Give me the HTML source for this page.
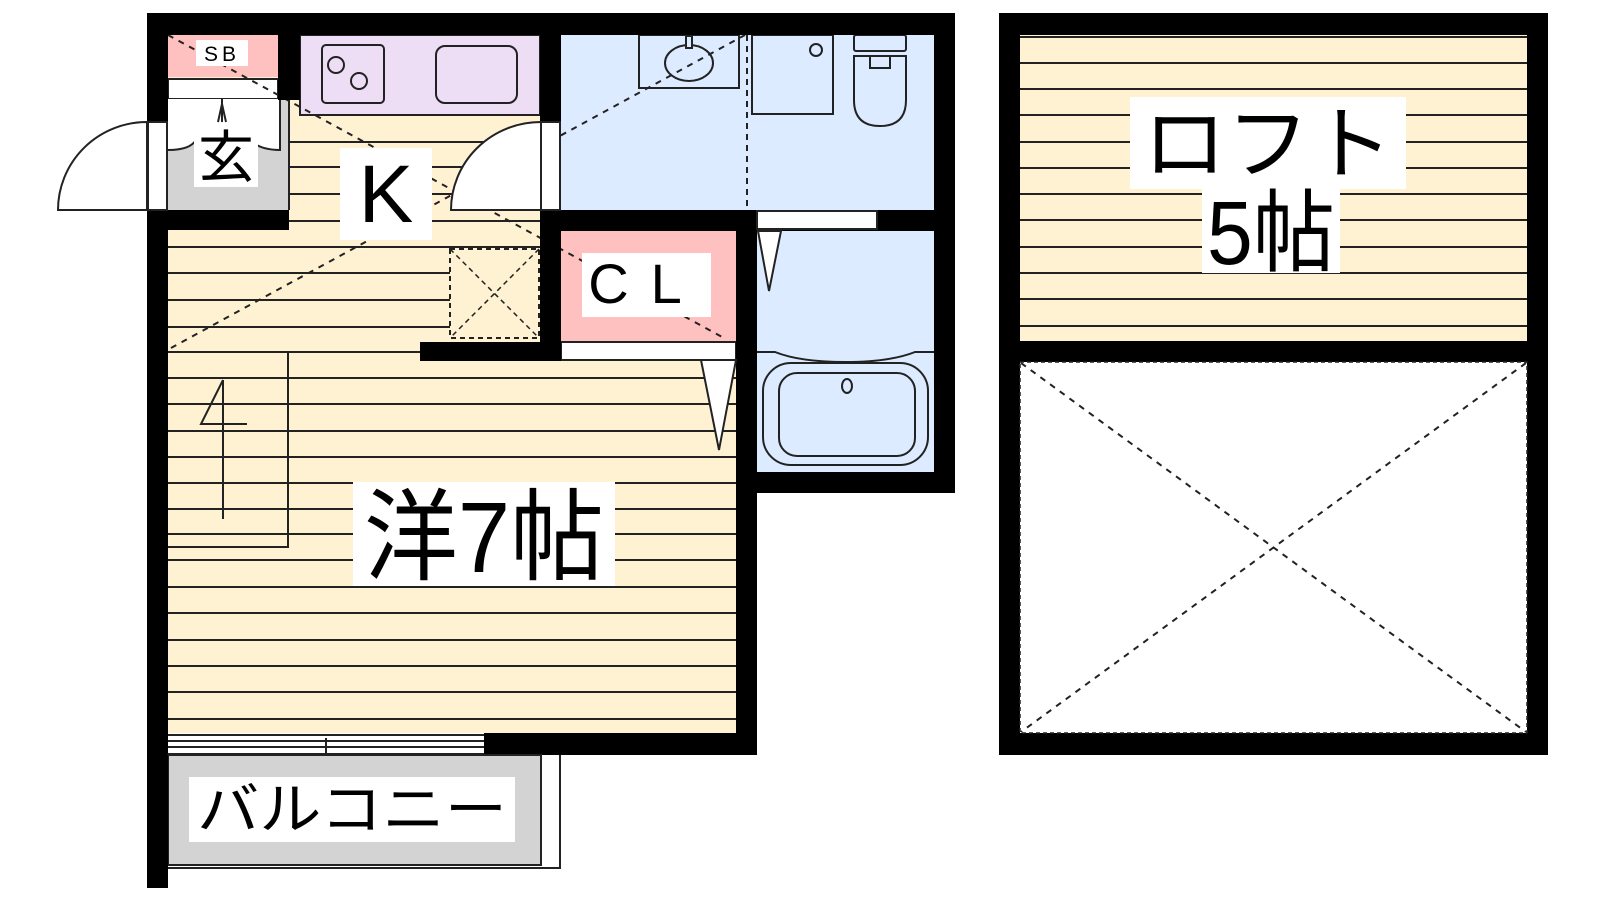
<!DOCTYPE html>
<html><head><meta charset="utf-8"><style>
html,body{margin:0;padding:0;background:#fff;width:1600px;height:900px;overflow:hidden}
text{font-family:"Liberation Sans","Noto Sans CJK JP",sans-serif;fill:#000}
</style></head><body>
<svg width="1600" height="900" viewBox="0 0 1600 900" xmlns="http://www.w3.org/2000/svg">
<!-- floors -->
<rect x="168" y="35" width="372" height="720" fill="#fff2d2"/>
<rect x="168" y="342" width="568" height="391" fill="#fff2d2"/>
<!-- kitchen floor lines -->
<g stroke="#222" stroke-width="2">
<line x1="290" y1="142" x2="540" y2="142"/><line x1="290" y1="167" x2="540" y2="167"/><line x1="290" y1="194" x2="540" y2="194"/>
<line x1="289" y1="221" x2="540" y2="221"/>
<line x1="168" y1="247" x2="540" y2="247"/><line x1="168" y1="273" x2="450" y2="273"/><line x1="168" y1="300" x2="450" y2="300"/><line x1="168" y1="327" x2="450" y2="327"/>
<line x1="168" y1="352" x2="420" y2="352"/>
<line x1="168" y1="378" x2="736" y2="378"/><line x1="168" y1="404" x2="736" y2="404"/><line x1="168" y1="431" x2="736" y2="431"/><line x1="168" y1="457" x2="736" y2="457"/><line x1="168" y1="483" x2="736" y2="483"/><line x1="168" y1="509" x2="736" y2="509"/><line x1="168" y1="534" x2="736" y2="534"/><line x1="168" y1="560" x2="736" y2="560"/><line x1="168" y1="587" x2="736" y2="587"/><line x1="168" y1="613" x2="736" y2="613"/><line x1="168" y1="640" x2="736" y2="640"/><line x1="168" y1="666" x2="736" y2="666"/><line x1="168" y1="692" x2="736" y2="692"/><line x1="168" y1="719" x2="736" y2="719"/>
</g>
<!-- closet shelf & ladder -->
<g stroke="#222" stroke-width="2" fill="none">
<polyline points="288,352 288,547 168,547"/>
<line x1="223" y1="380" x2="223" y2="519"/>
<polyline points="223,380 201,424 247,424"/>
</g>
<!-- dashed box -->
<rect x="450" y="249" width="89" height="89" fill="none" stroke="#222" stroke-width="2" stroke-dasharray="5,4"/>
<line x1="450" y1="249" x2="539" y2="338" stroke="#222" stroke-width="1.5" stroke-dasharray="5,4"/>
<line x1="539" y1="249" x2="450" y2="338" stroke="#222" stroke-width="1.5" stroke-dasharray="5,4"/>
<!-- SB -->
<rect x="168" y="35" width="110" height="42" fill="#ffc0c0"/>
<rect x="168" y="79" width="110" height="20" fill="#fff" stroke="#222" stroke-width="2"/>
<!-- genkan -->
<rect x="168" y="99" width="121" height="111" fill="#d3d3d3"/>
<path d="M168,99 L168,150 Q190,150 196,140 L250,140 Q260,150 280,150 L280,99 Z" fill="#fff"/>
<path d="M168,150 Q190,150 196,140 M250,140 Q260,150 280,150 L280,99" stroke="#222" stroke-width="2" fill="none"/>
<line x1="289" y1="99" x2="289" y2="210" stroke="#222" stroke-width="2"/>
<polyline points="218,122 222,104 226,122" fill="none" stroke="#222" stroke-width="2"/>
<line x1="222" y1="99" x2="222" y2="122" stroke="#222" stroke-width="2"/>
<!-- kitchen counter -->
<rect x="300" y="35" width="240" height="80" fill="#eedef5" stroke="#222" stroke-width="2"/>
<rect x="322" y="45" width="62" height="58" rx="4" fill="none" stroke="#222" stroke-width="2"/>
<circle cx="336" cy="65" r="8" fill="none" stroke="#222" stroke-width="2"/>
<circle cx="359" cy="81" r="8" fill="none" stroke="#222" stroke-width="2"/>
<rect x="436" y="46" width="81" height="57" rx="9" fill="none" stroke="#222" stroke-width="2"/>
<!-- bath/toilet area -->
<rect x="561" y="35" width="373" height="175" fill="#dcebff"/>
<rect x="757" y="231" width="177" height="241" fill="#dcebff"/>
<rect x="561" y="231" width="175" height="111" fill="#ffc0c0"/>
<rect x="561" y="342" width="175" height="18" fill="#fff" stroke="#222" stroke-width="2"/>
<g stroke="#222" stroke-width="2" fill="none">
<rect x="639" y="35" width="100" height="53"/>
<ellipse cx="689" cy="63" rx="24" ry="18"/>
<rect x="686" y="36" width="6" height="12" fill="#dcebff"/>
<rect x="752" y="35" width="81" height="79"/>
<circle cx="816" cy="50" r="6"/>
<rect x="854" y="35" width="52" height="16" rx="2"/>
<path d="M854,56 L906,56 L906,100 Q906,126 880,126 Q854,126 854,100 Z"/>
<path d="M870,56 L870,68 L890,68 L890,56"/>
<path d="M757,352 L775,352 Q800,362 845,362 Q890,362 915,352 L934,352"/>
<rect x="763" y="363" width="165" height="102" rx="28"/>
<rect x="779" y="373" width="136" height="83" rx="18"/>
<ellipse cx="847" cy="386" rx="5" ry="7"/>
</g>
<line x1="747" y1="35" x2="747" y2="210" stroke="#222" stroke-width="2" stroke-dasharray="6,5"/>
<!-- dashed diagonals -->
<g stroke="#222" stroke-width="2" stroke-dasharray="6,6">
<line x1="171" y1="348" x2="745" y2="35"/>
<line x1="168" y1="35" x2="724" y2="338"/>
</g>
<!-- walls -->
<g fill="#000">
<rect x="147" y="13" width="807" height="22"/>
<rect x="147" y="13" width="21" height="109"/>
<rect x="147" y="210" width="21" height="678"/>
<rect x="147" y="210" width="142" height="20"/>
<rect x="278" y="35" width="22" height="65"/>
<rect x="540" y="35" width="21" height="87"/>
<rect x="540" y="210" width="414" height="21"/>
<rect x="934" y="13" width="21" height="480"/>
<rect x="736" y="210" width="21" height="545"/>
<rect x="736" y="472" width="219" height="21"/>
<rect x="420" y="342" width="141" height="19"/>
<rect x="540" y="210" width="21" height="151"/>
<rect x="484" y="733" width="273" height="22"/>
</g>
<!-- sills -->
<rect x="757" y="211" width="120" height="18" fill="#fff" stroke="#222" stroke-width="2"/>
<rect x="541" y="122" width="19" height="88" fill="#fff" stroke="#222" stroke-width="2"/>
<rect x="148" y="122" width="19" height="88" fill="#fff" stroke="#222" stroke-width="2"/>
<!-- doors -->
<path d="M541,210 L451,210 A90,88 0 0 1 541,122 Z" fill="#fff" stroke="#222" stroke-width="2"/>
<path d="M147,210 L58,210 A89,88 0 0 1 147,122 Z" fill="#fff" stroke="#222" stroke-width="2"/>
<polygon points="701,360 736,360 719,450" fill="#fff" stroke="#222" stroke-width="2"/>
<polygon points="758,231 781,231 769,291" fill="#fff" stroke="#222" stroke-width="2"/>
<!-- balcony window -->
<rect x="168" y="733" width="316" height="22" fill="#fff"/>
<g stroke="#222" stroke-width="2">
<line x1="168" y1="735" x2="484" y2="735"/><line x1="168" y1="741" x2="484" y2="741"/><line x1="168" y1="747" x2="484" y2="747"/><line x1="168" y1="754" x2="484" y2="754"/>
<line x1="326" y1="738" x2="326" y2="755"/>
</g>
<!-- balcony -->
<rect x="168" y="755" width="373" height="110" fill="#d3d3d3" stroke="#222" stroke-width="2"/>
<polyline points="168,868 560,868 560,755" fill="none" stroke="#222" stroke-width="2"/>
<rect x="147" y="755" width="21" height="133" fill="#000"/>
<!-- loft -->
<rect x="999" y="13" width="549" height="742" fill="#000"/>
<rect x="1020" y="35" width="507" height="306" fill="#fff2d2"/>
<g stroke="#222" stroke-width="2">
<line x1="1020" y1="37" x2="1527" y2="37"/><line x1="1020" y1="63" x2="1527" y2="63"/><line x1="1020" y1="89" x2="1527" y2="89"/><line x1="1020" y1="115" x2="1527" y2="115"/><line x1="1020" y1="142" x2="1527" y2="142"/><line x1="1020" y1="168" x2="1527" y2="168"/><line x1="1020" y1="194" x2="1527" y2="194"/><line x1="1020" y1="220" x2="1527" y2="220"/><line x1="1020" y1="247" x2="1527" y2="247"/><line x1="1020" y1="273" x2="1527" y2="273"/><line x1="1020" y1="299" x2="1527" y2="299"/><line x1="1020" y1="326" x2="1527" y2="326"/>
</g>
<rect x="1020" y="362" width="507" height="371" fill="#fff" stroke="#222" stroke-width="1.5" stroke-dasharray="4,3"/>
<g stroke="#222" stroke-width="2" stroke-dasharray="6,6">
<line x1="1021" y1="363" x2="1526" y2="732"/>
<line x1="1526" y1="363" x2="1021" y2="732"/>
</g>
<!-- labels -->
<rect x="196" y="40" width="52" height="26" fill="#fff"/>
<text x="222" y="61" font-size="21" text-anchor="middle" letter-spacing="4">SB</text>
<rect x="194" y="123" width="64" height="64" fill="#fff"/>
<text x="226" y="177" font-size="56" text-anchor="middle">玄</text>
<rect x="340" y="148" width="92" height="92" fill="#fff"/>
<text x="386" y="222" font-size="82" text-anchor="middle">K</text>
<rect x="582" y="253" width="129" height="64" fill="#fff"/>
<text x="646" y="303" font-size="56" text-anchor="middle" letter-spacing="22">CL</text>
<rect x="353" y="482" width="262" height="104" fill="#fff"/>
<text x="484" y="572" font-size="100" text-anchor="middle" textLength="240" lengthAdjust="spacingAndGlyphs">洋7帖</text>
<rect x="189" y="777" width="326" height="65" fill="#fff"/>
<text x="352" y="829" font-size="56" text-anchor="middle" textLength="310" lengthAdjust="spacingAndGlyphs">バルコニー</text>
<rect x="1130" y="97" width="276" height="92" fill="#fff"/>
<text x="1268" y="172" font-size="80" text-anchor="middle" textLength="250" lengthAdjust="spacingAndGlyphs">ロフト</text>
<rect x="1202" y="189" width="138" height="84" fill="#fff"/>
<text x="1271" y="264" font-size="90" text-anchor="middle" textLength="128" lengthAdjust="spacingAndGlyphs">5帖</text>
</svg>
</body></html>
